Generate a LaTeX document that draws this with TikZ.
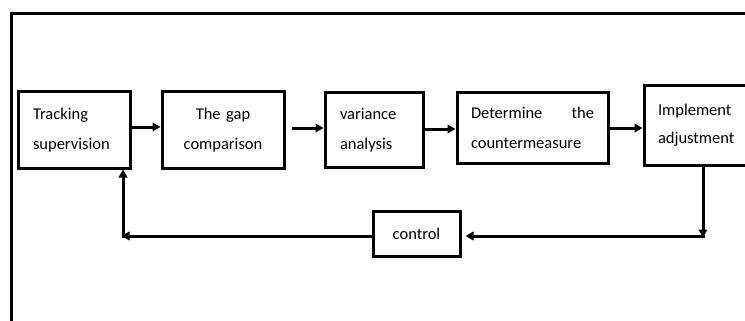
\documentclass[tikz,border=0pt]{standalone}
\usepackage{fontspec}
\setmainfont{Carlito}
\usetikzlibrary{arrows.meta}
\tikzset{
  every picture/.style={x=1pt,y=-1pt},
  stepbox/.style={draw,line width=3pt,rectangle,inner sep=0pt,
    font=\fontsize{16.5}{30}\selectfont},
  conn/.style={line width=3pt,-{Triangle[length=8pt,width=8.5pt]}},
  plain/.style={line width=3pt},
}
\begin{document}
\begin{tikzpicture}
\useasboundingbox (0,0) rectangle (745,321);
\clip (0,0) rectangle (745,321);
% outer frame
\draw[plain] (11.5,330) -- (11.5,13.5) -- (760,13.5);
% boxes
\node[stepbox,minimum width=112pt,minimum height=76pt,text width=82pt,align=left] (b1) at (74,130) {Tracking\\supervision};
\node[stepbox,minimum width=122pt,minimum height=76pt,text width=100pt,align=center] (b2) at (223,130) {The gap\\comparison};
\node[stepbox,minimum width=98pt,minimum height=74pt,text width=68pt,align=left] (b3) at (374,130) {variance\\analysis};
\node[stepbox,minimum width=151pt,minimum height=70pt,text width=123pt,align=left] (b4) at (532.5,128) {Determine\hfill the\\countermeasure};
\node[stepbox,minimum width=112pt,minimum height=79pt,text width=84pt,align=left,font=\fontsize{16.5}{28}\selectfont] (b5) at (700,125.5) {Implement\\adjustment};
\node[stepbox,minimum width=87pt,minimum height=45pt] (ctrl) at (416.5,233.5) {control};
% corners
\coordinate (rc) at (703,236);
\coordinate (lc) at (123,236);
% forward arrows
\draw[conn] (b1.east |- 0,127) -- (b2.west |- 0,127);
\draw[conn,shorten <=6pt] (b2.east |- 0,128) -- (b3.west |- 0,128);
\draw[conn] (b3.east |- 0,129) -- (b4.west |- 0,129);
\draw[conn] (b4.east |- 0,128) -- (b5.west |- 0,128);
% feedback
\draw[conn,shorten >=-1.5pt] (b5.south -| rc) -- (rc);
\draw[conn,shorten <=-1.5pt,shorten >=4pt] (rc) -- (rc -| ctrl.east);
\draw[conn,shorten >=-1.5pt] (ctrl.west |- lc) -- (lc);
\draw[conn,shorten <=-1.5pt] (lc) -- (b1.south -| lc);
\end{tikzpicture}
\end{document}
